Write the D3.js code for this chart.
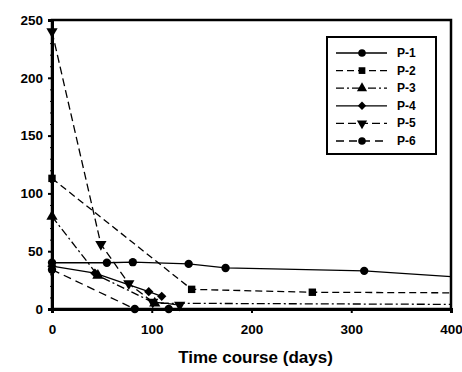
<!DOCTYPE html>
<html>
<head>
<meta charset="utf-8">
<script src="https://cdn.jsdelivr.net/npm/d3@7"></script>
<style>
  body { margin: 0; background: #fff; }
  text { font-family: "Liberation Sans", Arial, sans-serif; font-weight: bold; }
</style>
</head>
<body>
<script>
var names = ["P-1", "P-2", "P-3", "P-4", "P-5", "P-6"];

// [day, value] pairs
var p1 = [[0, 40], [55, 40], [81, 40.5], [137, 39], [174, 35.5], [313, 33], [400, 28]];
var p2 = [[0, 113], [140, 17], [261, 14.5], [400, 14]];
var p3 = [[0, 80], [46, 29], [103, 5], [400, 4]];
var p4 = [[0, 37], [43, 31], [97, 15], [110, 11]];
var p5 = [[0, 240], [49, 56], [77, 22], [101, 6], [128, 3.5]];
var p6 = [[0, 34], [83, 0], [117, 0]];

var xTicks = [0, 100, 200, 300, 400];
var yTicks = [0, 50, 100, 150, 200, 250];

var width = 462, height = 372;
// plot box (window.top is taken, so no plain "top")
var box = {left: 52, right: 451, top: 20, bottom: 309};

var series = [
  {name: names[0], values: p1, dash: null, shape: d3.symbolCircle},
  {name: names[1], values: p2, dash: "7,4", shape: d3.symbolSquare},
  {name: names[2], values: p3, dash: "8,3,2,3", shape: d3.symbolTriangle},
  {name: names[3], values: p4, dash: null, shape: d3.symbolDiamond2 || d3.symbolDiamond},
  {name: names[4], values: p5, dash: "8,4", shape: d3.symbolTriangle, flip: true},
  {name: names[5], values: p6, dash: "8,5", shape: d3.symbolCircle}
];

var svg = d3.select("body").append("svg")
  .attr("width", width)
  .attr("height", height);

var x = d3.scaleLinear().domain([0, 400]).range([box.left, box.right]);
var y = d3.scaleLinear().domain([0, 250]).range([box.bottom, box.top]);

// frame
svg.append("rect")
  .attr("x", box.left).attr("y", box.top)
  .attr("width", box.right - box.left).attr("height", box.bottom - box.top)
  .attr("fill", "none").attr("stroke", "#000").attr("stroke-width", 2.5);

// minor ticks on y
svg.append("g")
  .attr("transform", "translate(" + box.left + ",0)")
  .call(d3.axisLeft(y).ticks(25).tickSize(2).tickFormat(""))
  .call(function(g) { g.select(".domain").remove(); });

// axes
var yAxis = svg.append("g")
  .attr("transform", "translate(" + box.left + ",0)")
  .call(d3.axisLeft(y).tickValues(yTicks).tickSize(4).tickPadding(5));
var xAxis = svg.append("g")
  .attr("transform", "translate(0," + box.bottom + ")")
  .call(d3.axisBottom(x).tickValues(xTicks).tickSize(4).tickPadding(11));

[xAxis, yAxis].forEach(function(a) {
  a.select(".domain").attr("stroke-width", 3);
  a.selectAll(".tick line").attr("stroke-width", 2);
  a.selectAll("text").attr("font-size", 13.5).attr("fill", "#000")
    .style("font-family", "Liberation Sans, Arial, sans-serif").style("font-weight", "bold");
});

svg.append("text")
  .attr("x", (box.left + box.right) / 2 + 4)
  .attr("y", 363)
  .attr("text-anchor", "middle")
  .attr("font-size", 17)
  .text("Time course (days)");

var line = d3.line()
  .x(function(d) { return x(d[0]); })
  .y(function(d) { return y(d[1]); });

var symbol = function(s, size) {
  return d3.symbol().type(s.shape).size(size)();
};

var g = svg.selectAll(".series")
  .data(series)
  .enter()
  .append("g")
  .attr("class", "series");

g.append("path")
  .attr("d", function(d) { return line(d.values); })
  .attr("fill", "none")
  .attr("stroke", "#000")
  .attr("stroke-width", 1.3)
  .attr("stroke-dasharray", function(d) { return d.dash; });

// no markers on the right frame edge, as in the original
g.each(function(s) {
  d3.select(this).selectAll(".pt")
    .data(s.values.filter(function(d) { return d[0] < 400; }))
    .enter()
    .append("path")
    .attr("class", "pt")
    .attr("d", symbol(s, 55))
    .attr("transform", function(d) {
      return "translate(" + x(d[0]) + "," + y(d[1]) + ")" + (s.flip ? " rotate(180)" : "");
    })
    .attr("fill", "#000");
});

// legend
var legend = svg.append("g");
legend.append("rect")
  .attr("x", 327).attr("y", 37)
  .attr("width", 109).attr("height", 117)
  .attr("fill", "#fff").attr("stroke", "#000").attr("stroke-width", 2);

var item = legend.selectAll(".item")
  .data(series)
  .enter()
  .append("g")
  .attr("class", "item")
  .attr("transform", function(d, i) { return "translate(0," + (53 + i * 17.6) + ")"; });

item.append("line")
  .attr("x1", 336).attr("x2", 387)
  .attr("stroke", "#000").attr("stroke-width", 1.3)
  .attr("stroke-dasharray", function(d) { return d.dash; });

item.append("path")
  .attr("d", function(d) { return symbol(d, 45); })
  .attr("transform", function(d) { return "translate(362,0)" + (d.flip ? " rotate(180)" : ""); })
  .attr("fill", "#000");

item.append("text")
  .attr("x", 397).attr("dy", 4)
  .attr("font-size", 12)
  .text(function(d) { return d.name; });
</script>
</body>
</html>
